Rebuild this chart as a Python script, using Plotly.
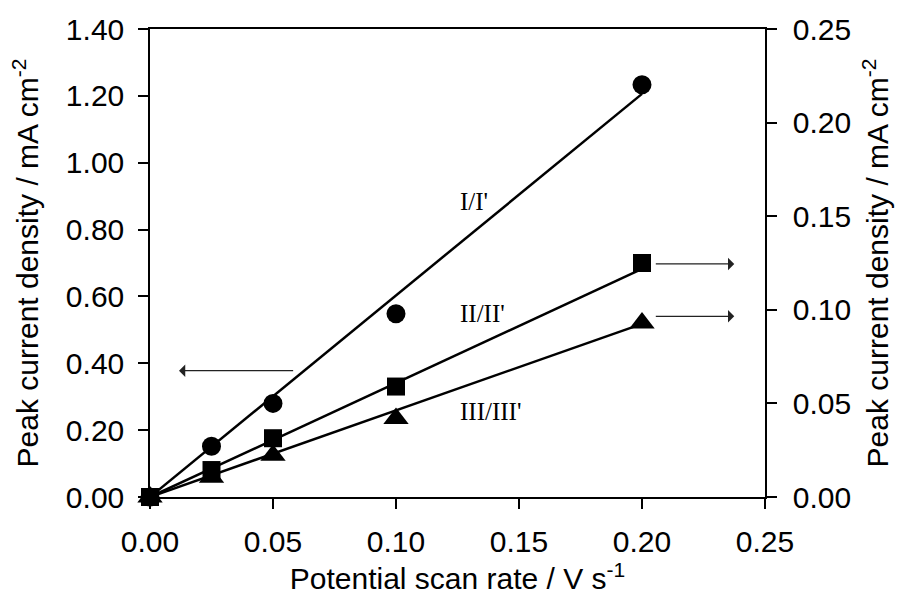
import plotly.graph_objects as go

# ---- data ----
scan_rate = [0.0, 0.025, 0.05, 0.10, 0.20]
peak_I = [0.0, 0.152, 0.280, 0.548, 1.233]      # left axis
peak_II = [0.0, 0.0144, 0.0314, 0.059, 0.125]   # right axis
peak_III = [0.0, 0.0105, 0.0223, 0.042, 0.093]  # right axis
fit_x = [0.0, 0.20]
fit_I = [0.0, 1.206]
fit_II = [0.0, 0.1218]
fit_III = [0.0, 0.0925]
labels = ["I/I'", "II/II'", "III/III'"]
label_y = [0.885, 0.548, 0.256]  # left-axis units

LINE_W = 2.5
fig = go.Figure()

# fit lines
fig.add_trace(go.Scatter(x=fit_x, y=fit_I, mode="lines", line=dict(color="black", width=LINE_W),
                         yaxis="y", showlegend=False, cliponaxis=False))
fig.add_trace(go.Scatter(x=fit_x, y=fit_II, mode="lines", line=dict(color="black", width=LINE_W),
                         yaxis="y2", showlegend=False, cliponaxis=False))
fig.add_trace(go.Scatter(x=fit_x, y=fit_III, mode="lines", line=dict(color="black", width=LINE_W),
                         yaxis="y2", showlegend=False, cliponaxis=False))

# markers
fig.add_trace(go.Scatter(x=scan_rate, y=peak_I, mode="markers",
                         marker=dict(symbol="circle", size=19, color="black"),
                         yaxis="y", showlegend=False, cliponaxis=False))
fig.add_trace(go.Scatter(x=scan_rate, y=peak_III, mode="markers",
                         marker=dict(symbol="triangle-up", size=22, color="black"),
                         yaxis="y2", showlegend=False, cliponaxis=False))
fig.add_trace(go.Scatter(x=scan_rate, y=peak_II, mode="markers",
                         marker=dict(symbol="square", size=18, color="black"),
                         yaxis="y2", showlegend=False, cliponaxis=False))

# text labels
for t, yv in zip(labels, label_y):
    fig.add_annotation(x=0.125, y=yv, xref="x", yref="y", text=t, showarrow=False,
                       xanchor="left", yanchor="middle",
                       font=dict(family="Liberation Serif", size=25, color="black"))

# arrows (head at x,y; tail at ax,ay)
arrow_style = dict(showarrow=True, arrowhead=1, arrowsize=1.6, arrowwidth=1.3,
                   arrowcolor="#222222", text="", xref="x", axref="x")
fig.add_annotation(x=0.0118, y=0.378, ax=0.0588, ay=0.378, yref="y", ayref="y", **arrow_style)
fig.add_annotation(x=0.2375, y=0.1245, ax=0.205, ay=0.1245, yref="y2", ayref="y2", **arrow_style)
fig.add_annotation(x=0.2375, y=0.0965, ax=0.205, ay=0.0965, yref="y2", ayref="y2", **arrow_style)

FONT = "Liberation Sans"
TICK_SIZE = 30
TITLE_SIZE = 30
axis_common = dict(showline=True, linecolor="black", linewidth=1.5, ticks="outside",
                   ticklen=10, tickwidth=1.5, tickcolor="black", showgrid=False,
                   zeroline=False, tickformat=".2f",
                   tickfont=dict(family=FONT, size=TICK_SIZE, color="black"))

fig.update_layout(
    width=901, height=605,
    margin=dict(l=150, r=135, t=27, b=108),
    paper_bgcolor="white", plot_bgcolor="white",
    xaxis=dict(range=[0, 0.25], dtick=0.05, mirror=True, ticklabelstandoff=7,
               title=dict(text="Potential scan rate / V s<sup>-1</sup>", standoff=9,
                          font=dict(family=FONT, size=TITLE_SIZE, color="black")),
               **axis_common),
    yaxis=dict(range=[0, 1.40], dtick=0.2, ticklabelstandoff=8,
               title=dict(text="Peak current density / mA cm<sup>-2</sup>", standoff=18,
                          font=dict(family=FONT, size=TITLE_SIZE, color="black")),
               **axis_common),
    yaxis2=dict(range=[0, 0.25], dtick=0.05, overlaying="y", side="right", ticklabelstandoff=10,
                title=dict(text="Peak current density / mA cm<sup>-2</sup>", standoff=17,
                           font=dict(family=FONT, size=TITLE_SIZE, color="black")),
                **axis_common),
)

fig.write_html("out.html")
